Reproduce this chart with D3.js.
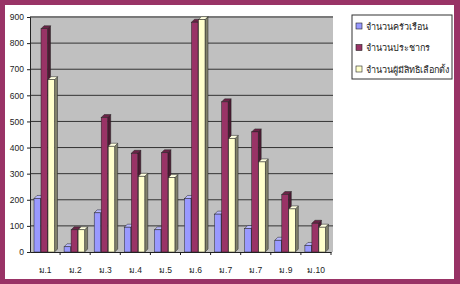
<!DOCTYPE html>
<html>
<head>
<meta charset="utf-8">
<script src="https://cdn.jsdelivr.net/npm/d3@7"></script>
<style>
  body { margin: 0; background: #993366; }
  svg { display: block; }
  text { font-family: "Liberation Sans", Arial, "Noto Sans", sans-serif; }
</style>
</head>
<body>
<svg id="chart" width="460" height="284"></svg>
<script>
// data
var categories = ['ม.1', 'ม.2', 'ม.3', 'ม.4', 'ม.5', 'ม.6', 'ม.7', 'ม.7 ', 'ม.9', 'ม.10'];
var seriesNames = ['จำนวนครัวเรือน', 'จำนวนประชากร', 'จำนวนผู้มีสิทธิเลือกตั้ง'];
var households = [205, 20, 150, 95, 85, 205, 145, 90, 45, 25];
var population = [855, 85, 515, 378, 380, 880, 575, 460, 220, 110];
var voters = [660, 85, 405, 290, 285, 890, 435, 345, 165, 95];
var yTicks = [0, 100, 200, 300, 400, 500, 600, 700, 800, 900];

var colors = ['#9999FF', '#993366', '#FFFFCC'];
var sideColors = ['#4c4c80', '#4d1a33', '#80806a'];
var topColors = ['#b8b8ff', '#6b2447', '#ffffe0'];
var values = [households, population, voters];

drawChart();

function drawChart() {
  var svg = d3.select('#chart');

  // white page inside the purple frame
  svg.append('rect').attr('x', 5).attr('y', 5).attr('width', 449).attr('height', 274).attr('fill', '#fff');

  var plotLeft = 30, plotRight = 331, plotTop = 17, plotBottom = 252;
  var depth = 3;

  var x = d3.scaleBand().domain(categories).range([plotLeft, plotRight]);
  var xs = d3.scaleBand().domain(d3.range(3)).range([4, 25]);
  var y = d3.scaleLinear().domain([0, 900]).range([plotBottom, plotTop]);

  // grey back wall
  svg.append('rect')
    .attr('x', plotLeft).attr('y', plotTop - 1)
    .attr('width', plotRight - plotLeft + 2).attr('height', plotBottom - plotTop + 1)
    .attr('fill', '#c0c0c0');

  // gridlines
  svg.selectAll('.grid').data(yTicks.slice(1)).enter().append('line')
    .attr('x1', plotLeft).attr('x2', plotRight + 2)
    .attr('y1', function(d) { return y(d); }).attr('y2', function(d) { return y(d); })
    .attr('stroke', '#333').attr('stroke-width', 1);

  // bars, drawn with a small 3D side and top
  categories.forEach(function(c, i) {
    for (var s = 0; s < 3; s++) {
      var v = values[s][i];
      var x0 = x(c) + xs(s);
      var w = xs.bandwidth() - 0.5;
      var y0 = y(v);
      var g = svg.append('g');
      // side
      g.append('path')
        .attr('d', 'M' + (x0 + w) + ',' + y0 + 'L' + (x0 + w + depth) + ',' + (y0 - depth) +
          'L' + (x0 + w + depth) + ',' + (plotBottom - depth) + 'L' + (x0 + w) + ',' + plotBottom + 'Z')
        .attr('fill', sideColors[s]).attr('stroke', '#222').attr('stroke-width', 0.5);
      // top
      g.append('path')
        .attr('d', 'M' + x0 + ',' + y0 + 'L' + (x0 + depth) + ',' + (y0 - depth) +
          'L' + (x0 + w + depth) + ',' + (y0 - depth) + 'L' + (x0 + w) + ',' + y0 + 'Z')
        .attr('fill', topColors[s]).attr('stroke', '#222').attr('stroke-width', 0.5);
      // front
      g.append('rect')
        .attr('x', x0).attr('y', y0).attr('width', w).attr('height', plotBottom - y0)
        .attr('fill', colors[s]).attr('stroke', '#222').attr('stroke-width', 0.5);
    }
  });

  // axes
  var yAxis = d3.axisLeft(y).tickValues(yTicks).tickSize(3).tickPadding(3);
  var yg = svg.append('g').attr('transform', 'translate(' + plotLeft + ',0)').call(yAxis);
  yg.select('.domain').attr('stroke', '#222');
  yg.selectAll('.tick line').attr('stroke', '#222');
  yg.selectAll('text').attr('font-size', 8.5).attr('fill', '#222');

  var xAxis = d3.axisBottom(x).tickSize(0).tickPadding(15);
  var xg = svg.append('g').attr('transform', 'translate(0,' + plotBottom + ')').call(xAxis);
  xg.select('.domain').attr('stroke', '#222');
  xg.selectAll('text').attr('font-size', 8.5).attr('fill', '#222');
  // tick marks between categories
  xg.selectAll('.sep').data(categories).enter().append('line')
    .attr('x1', function(d) { return x(d) + x.bandwidth(); })
    .attr('x2', function(d) { return x(d) + x.bandwidth(); })
    .attr('y1', 0).attr('y2', 3)
    .attr('stroke', '#222');

  // legend
  var legend = svg.append('g').attr('transform', 'translate(352,15)');
  legend.append('rect').attr('width', 100).attr('height', 64)
    .attr('fill', '#fff').attr('stroke', '#333').attr('stroke-width', 1);
  seriesNames.forEach(function(name, i) {
    var ly = 12 + i * 21.5;
    legend.append('rect').attr('x', 4).attr('y', ly - 4).attr('width', 6).attr('height', 6)
      .attr('fill', colors[i]).attr('stroke', '#222').attr('stroke-width', 0.6);
    legend.append('text').attr('x', 14).attr('y', ly + 2.5)
      .attr('font-size', 9).attr('fill', '#222').text(name);
  });
}
</script>
</body>
</html>
